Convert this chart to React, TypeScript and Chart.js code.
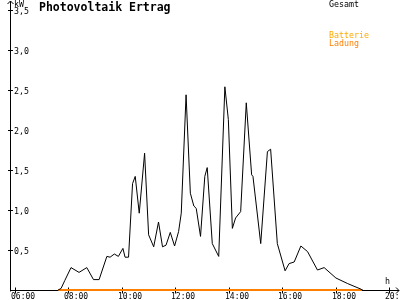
import React, { useEffect, useRef } from "react";
import { Chart, registerables } from "chart.js";

Chart.register(...registerables);

// Time of day in hours, total yield in kW
const timeH = [
  7.62, 7.73, 7.87, 8.1, 8.4, 8.69, 8.94, 9.15, 9.44, 9.56, 9.72, 9.87, 10.04, 10.12, 10.25,
  10.4, 10.5, 10.65, 10.85, 11.0, 11.19, 11.37, 11.52, 11.65, 11.81, 11.97, 12.12, 12.22,
  12.4, 12.56, 12.69, 12.78, 12.94, 13.1, 13.19, 13.38, 13.62, 13.85, 13.98, 14.13, 14.25,
  14.44, 14.65, 14.85, 14.9, 15.19, 15.44, 15.56, 15.81, 16.1, 16.25, 16.44, 16.69, 16.94,
  17.31, 17.56, 18.0, 18.44, 18.94, 18.97,
];
const gesamtKW = [
  0, 0.02, 0.12, 0.28, 0.22, 0.28, 0.13, 0.13, 0.42, 0.41, 0.45, 0.42, 0.52, 0.41, 0.41,
  1.33, 1.42, 0.96, 1.71, 0.69, 0.54, 0.85, 0.54, 0.56, 0.72, 0.55, 0.73, 0.96,
  2.44, 1.21, 1.05, 1.02, 0.67, 1.42, 1.53, 0.58, 0.42, 2.54, 2.13, 0.77, 0.9,
  0.98, 2.34, 1.44, 1.42, 0.58, 1.73, 1.76, 0.58, 0.24, 0.33, 0.35, 0.55, 0.48,
  0.25, 0.28, 0.15, 0.08, 0.01, 0,
];
// Battery charging
const ladungTimeH = [7.62, 18.97];
const ladungKW = [0, 0];

const xTickValues = [6, 8, 10, 12, 14, 16, 18, 20];
const xTickLabels = ["06:00", "08:00", "10:00", "12:00", "14:00", "16:00", "18:00", "20:"];
const yTickValues = [0.5, 1.0, 1.5, 2.0, 2.5, 3.0, 3.5];
const yTickLabels = ["0,5", "1,0", "1,5", "2,0", "2,5", "3,0", "3,5"];

const title = "Photovoltaik Ertrag";
const legendTexts = ["Gesamt", "Batterie", "Ladung"];
const yUnit = "kW";
const xUnit = "h";

const MONO = '"DejaVu Sans Mono", monospace';

const decorPlugin = {
  id: "decor",
  beforeDatasetsDraw(chart: any) {
    const ctx = chart.ctx;
    const xs = chart.scales.x;
    const ys = chart.scales.y;
    const x0 = Math.round(xs.left) + 0.5;
    const y0 = Math.round(ys.getPixelForValue(0)) + 0.5;
    ctx.save();
    ctx.strokeStyle = "#000";
    ctx.lineWidth = 1;
    // y axis
    ctx.beginPath();
    ctx.moveTo(x0, 1);
    ctx.lineTo(x0, y0 + 1);
    ctx.stroke();
    // arrow up
    ctx.beginPath();
    ctx.moveTo(x0 - 3, 4);
    ctx.lineTo(x0, 1);
    ctx.lineTo(x0 + 3, 4);
    ctx.stroke();
    // x axis
    ctx.beginPath();
    ctx.moveTo(x0, y0);
    ctx.lineTo(399, y0);
    ctx.stroke();
    ctx.beginPath();
    ctx.moveTo(396, y0 - 3);
    ctx.lineTo(399, y0);
    ctx.lineTo(396, y0 + 3);
    ctx.stroke();
    // y ticks
    ctx.fillStyle = "#000";
    ctx.font = `8.3px ${MONO}`;
    ctx.textBaseline = "middle";
    ctx.textAlign = "left";
    yTickValues.forEach((v, i) => {
      const py = Math.round(ys.getPixelForValue(v)) + 0.5;
      ctx.beginPath();
      ctx.moveTo(x0 - 2.5, py);
      ctx.lineTo(x0 + 2.5, py);
      ctx.stroke();
      ctx.fillText(yTickLabels[i], x0 + 3.5, py + 1);
    });
    ctx.fillText(yUnit, x0 + 3.5, 4.5);
    // x ticks
    ctx.font = `8px ${MONO}`;
    xTickValues.forEach((v, i) => {
      const px = Math.round(xs.getPixelForValue(v)) + 0.5;
      ctx.beginPath();
      ctx.moveTo(px, y0 - 3);
      ctx.lineTo(px, y0 + 3);
      ctx.stroke();
      ctx.fillText(xTickLabels[i], px - 4.5, 296.5);
    });
    ctx.font = `8.3px ${MONO}`;
    ctx.fillText(xUnit, 385, 281.5);
    ctx.restore();
  },
  afterDraw(chart: any) {
    const ctx = chart.ctx;
    ctx.save();
    ctx.textAlign = "left";
    ctx.textBaseline = "alphabetic";
    ctx.fillStyle = "#000";
    ctx.font = `bold 11.5px ${MONO}`;
    ctx.fillText(title, 39, 11);
    ctx.font = `8.3px ${MONO}`;
    ctx.textBaseline = "middle";
    ctx.fillStyle = "#000";
    ctx.fillText(legendTexts[0], 329, 4.5);
    ctx.fillStyle = "#ffaa00";
    ctx.fillText(legendTexts[1], 329, 36);
    ctx.fillStyle = "#ff8000";
    ctx.fillText(legendTexts[2], 329, 43.5);
    ctx.restore();
  },
};

export default function App() {
  const ref = useRef<HTMLCanvasElement | null>(null);
  useEffect(() => {
    if (!ref.current) return;
    const chart = new Chart(ref.current, {
      type: "line",
      data: {
        datasets: [
          {
            label: legendTexts[0],
            data: timeH.map((t, i) => ({ x: t, y: gesamtKW[i] })),
            borderColor: "#000",
            borderWidth: 1,
            pointRadius: 0,
            tension: 0,
            fill: false,
            clip: false,
          },
          {
            label: legendTexts[2],
            data: ladungTimeH.map((t, i) => ({ x: t, y: ladungKW[i] })),
            borderColor: "#ff8000",
            borderWidth: 2,
            pointRadius: 0,
            tension: 0,
            fill: false,
            clip: false,
          },
        ],
      },
      options: {
        responsive: false,
        animation: false,
        layout: { padding: { left: 10, right: 2, top: 10, bottom: 10 } },
        plugins: { legend: { display: false }, tooltip: { enabled: false } },
        scales: {
          x: { type: "linear", min: 5.82, max: 20.32, display: false },
          y: { type: "linear", min: 0, max: 3.5, display: false },
        },
      },
      plugins: [decorPlugin],
    });
    return () => chart.destroy();
  }, []);
  return (
    <div style={{ position: "absolute", left: 0, top: 0, width: 400, height: 300, background: "#fff" }}>
      <canvas ref={ref} width={400} height={300} style={{ display: "block", width: 400, height: 300 }} />
    </div>
  );
}
